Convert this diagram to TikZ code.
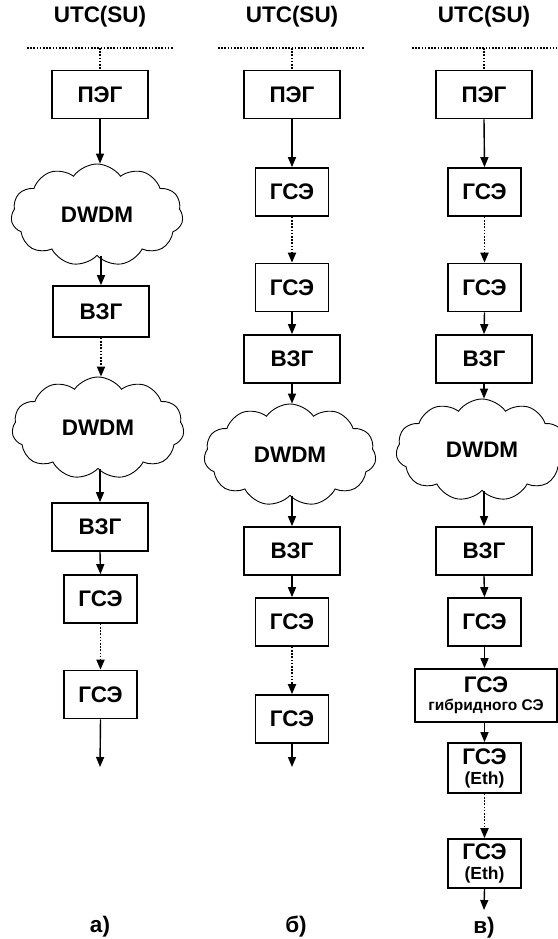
\documentclass[tikz,border=0pt]{standalone}
\usepackage{fontspec}
\setmainfont{Liberation Sans}
\usetikzlibrary{shapes.symbols,arrows.meta}
\tikzset{
  bigfont/.style={font=\bfseries\fontsize{22.5}{24}\selectfont},
  lbl/.style={bigfont, inner sep=0pt},
  box/.style={draw, line width=1.7pt, minimum width=96pt, minimum height=48pt, inner sep=0pt, bigfont},
  sbox/.style={box, minimum width=73pt},
  dw/.style={cloud, cloud puffs=11, cloud puff arc=110, aspect=1.7, draw, line width=0.9pt, minimum width=172pt, minimum height=102pt, inner sep=0pt, bigfont},
  arr/.style={line width=1.4pt, -{Triangle[length=10pt,width=8pt]}},
  darr/.style={line width=1.8pt, dash pattern=on 1.6pt off 1.6pt, -{Triangle[length=10pt,width=8pt]}},
  dln/.style={line width=1.8pt, dash pattern=on 1.6pt off 1.6pt},
}
\begin{document}
\begin{tikzpicture}[x=1pt,y=-1pt]
\useasboundingbox (0,0) rectangle (557,939);
% ---------- column a ----------
\node[lbl] (utcA) at (100,17) {UTC(SU)};
\coordinate (aL) at (27,48); \coordinate (aR) at (173,48); \coordinate (aM) at (100,48);
\draw[dln] (aL) -- (aR);
\node[box] (pegA) at (100,94.5) {ПЭГ};
\node[dw] (cA1) at (97,215) {DWDM};
\node[box, minimum height=51pt] (vzgA1) at (101,311.5) {ВЗГ};
\node[dw] (cA2) at (98,428) {DWDM};
\node[box] (vzgA2) at (100,527) {ВЗГ};
\node[sbox] (gseA1) at (100.5,599) {ГСЭ};
\node[sbox] (gseA2) at (100.5,694.5) {ГСЭ};
\coordinate (endA) at (100,767);
\node[lbl] (labA) at (100,927) {а)};
\draw[dln] (aM) -- (pegA.north);
\draw[arr] (pegA.south) -- (pegA.south |- cA1.north);
\draw[arr] (cA1.south -| vzgA1.north) -- (vzgA1.north);
\draw[darr] (vzgA1.south) -- (vzgA1.south |- cA2.north);
\draw[arr] (cA2.south -| vzgA2.north) -- (vzgA2.north);
\draw[arr] (vzgA2.south) -- (gseA1.north);
\draw[darr] (gseA1.south) -- (gseA2.north);
\draw[arr] (gseA2.south) -- (endA);
% ---------- column b ----------
\node[lbl] (utcB) at (292,17) {UTC(SU)};
\coordinate (bL) at (218,48); \coordinate (bR) at (365,48); \coordinate (bM) at (292,48);
\draw[dln] (bL) -- (bR);
\node[box] (pegB) at (292,94.5) {ПЭГ};
\node[sbox] (gseB1) at (292,192) {ГСЭ};
\node[sbox] (gseB2) at (292,287.5) {ГСЭ};
\node[box] (vzgB1) at (292,359) {ВЗГ};
\node[dw] (cB) at (290,455) {DWDM};
\node[box] (vzgB2) at (292,551) {ВЗГ};
\node[sbox] (gseB3) at (292,622) {ГСЭ};
\node[sbox] (gseB4) at (292,719) {ГСЭ};
\coordinate (endB) at (292,767);
\node[lbl] (labB) at (296,927) {б)};
\draw[dln] (bM) -- (pegB.north);
\draw[arr] (pegB.south) -- (gseB1.north);
\draw[darr] (gseB1.south) -- (gseB2.north);
\draw[arr] (gseB2.south) -- (vzgB1.north);
\draw[arr] (vzgB1.south) -- (vzgB1.south |- cB.north);
\draw[arr] (cB.south -| vzgB2.north) -- (vzgB2.north);
\draw[arr] (vzgB2.south) -- (gseB3.north);
\draw[darr] (gseB3.south) -- (gseB4.north);
\draw[arr] (gseB4.south) -- (endB);
% ---------- column c ----------
\node[lbl] (utcC) at (484,17) {UTC(SU)};
\coordinate (cL) at (412,48); \coordinate (cR) at (557,48); \coordinate (cM) at (484,48);
\draw[dln] (cL) -- (cR);
\node[box] (pegC) at (484,94.5) {ПЭГ};
\node[sbox] (gseC1) at (484.5,192) {ГСЭ};
\node[sbox] (gseC2) at (484.5,287.5) {ГСЭ};
\node[box] (vzgC1) at (484,359) {ВЗГ};
\node[dw] (cC) at (482,450) {DWDM};
\node[box] (vzgC2) at (484,551) {ВЗГ};
\node[sbox] (gseC3) at (484.5,622) {ГСЭ};
\node[box, minimum width=142pt, minimum height=53pt, align=center, font=\bfseries\fontsize{22.5}{17}\selectfont] (hyb) at (486,695.5)
  {ГСЭ\\[1pt]{\fontsize{15.5}{16}\selectfont гибридного СЭ}};
\node[sbox, minimum height=50pt, align=center, font=\bfseries\fontsize{22.5}{20}\selectfont] (ethC1) at (484.5,768)
  {ГСЭ\\{\fontsize{17.5}{18}\selectfont (Eth)}};
\node[sbox, minimum height=49pt, align=center, font=\bfseries\fontsize{22.5}{20}\selectfont] (ethC2) at (484.5,863.5)
  {ГСЭ\\{\fontsize{17.5}{18}\selectfont (Eth)}};
\coordinate (endC) at (484,910);
\node[lbl] (labC) at (484,928) {в)};
\draw[dln] (cM) -- (pegC.north);
\draw[arr] (pegC.south) -- (gseC1.north);
\draw[darr] (gseC1.south) -- (gseC2.north);
\draw[arr] (gseC2.south) -- (vzgC1.north);
\draw[arr] (vzgC1.south) -- (vzgC1.south |- cC.north);
\draw[arr] (cC.south -| vzgC2.north) -- (vzgC2.north);
\draw[arr] (vzgC2.south) -- (gseC3.north);
\draw[arr] (gseC3.south) -- (gseC3.south |- hyb.north);
\draw[arr] (hyb.south -| ethC1.north) -- (ethC1.north);
\draw[darr] (ethC1.south) -- (ethC2.north);
\draw[arr] (ethC2.south) -- (endC);
\end{tikzpicture}
\end{document}
